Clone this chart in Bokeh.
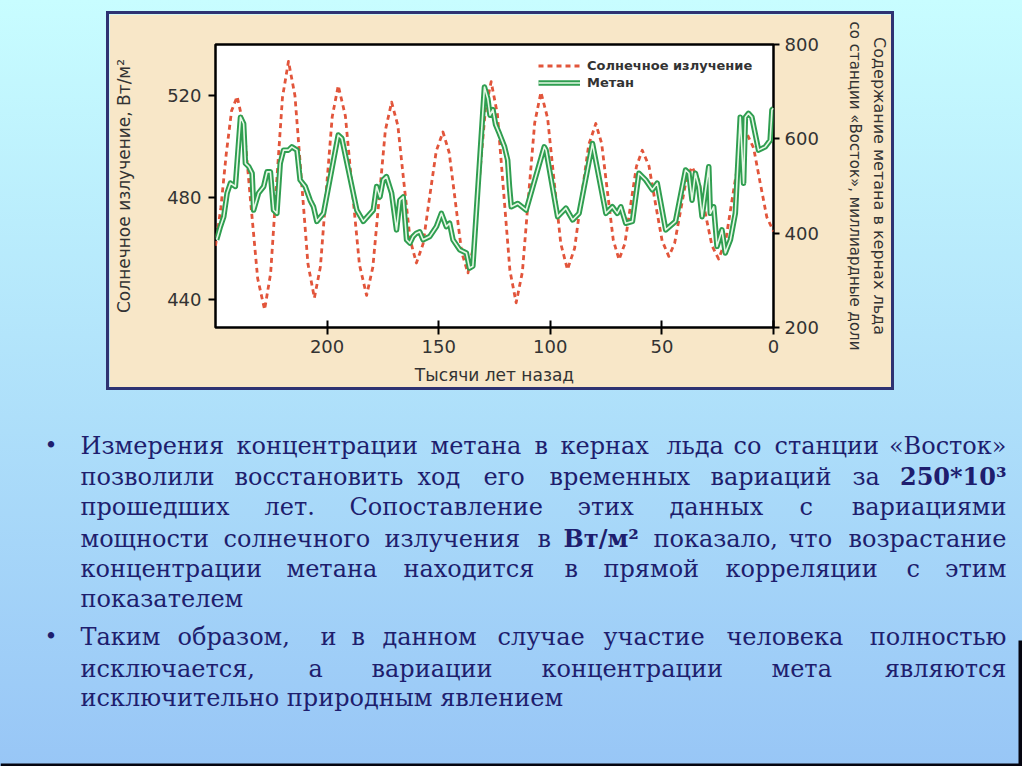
from bokeh.plotting import figure
from bokeh.layouts import column, row
from bokeh.models import Range1d, LinearAxis, FixedTicker, Legend, LegendItem, Spacer
from bokeh.core.properties import value
from bokeh.embed import file_html
from bokeh.resources import INLINE

# ---------------- data ----------------
solar_kyr = [250, 247.6, 245.2, 242.8, 240.3, 237.2, 234.2, 231.1, 228, 225.3, 222.7, 220.0,
             217.3, 214.4, 211.5, 208.6, 205.7, 203.0, 200.4, 197.7, 195, 191.8, 188.7, 185.5,
             182.3, 179.5, 176.7, 173.9, 171.1, 168.3, 165.6, 162.8, 160, 157.0, 154.1, 151.1,
             148.1, 145.3, 142.5, 139.7, 136.9, 134.3, 131.7, 129.1, 126.5, 123.7, 120.9, 118.1,
             115.3, 112.5, 109.8, 107.0, 104.2, 101.2, 98.3, 95.3, 92.3, 89.1, 86.0, 82.8,
             79.6, 77.0, 74.4, 71.8, 69.2, 66.6, 64.0, 61.4, 58.8, 55.8, 52.9, 49.9,
             46.9, 44.3, 41.7, 39.1, 36.5, 33.5, 30.6, 27.6, 24.6, 21.4, 18.3, 15.1,
             11.9, 8.9, 6.0, 3.0, 0]
solar_wm2 = [461, 476, 497, 514, 519.6, 507.4, 477.8, 448.2, 436, 450.2, 484.7, 519.2,
             533.4, 519.9, 487.0, 454.1, 440.6, 452.8, 482.3, 511.7, 523.9, 511.9, 482.8, 453.6,
             441.6, 452.7, 479.5, 506.3, 517.4, 508.2, 485.9, 463.5, 454.3, 461.8, 480.0, 498.2,
             505.7, 497.6, 478.1, 458.5, 450.4, 461.4, 487.9, 514.4, 525.4, 512.7, 482.1, 451.4,
             438.7, 450.8, 480.0, 509.2, 521.3, 511.1, 486.5, 461.9, 451.7, 460.1, 480.4, 500.6,
             509.0, 501.2, 482.3, 463.4, 455.6, 461.9, 477.1, 492.2, 498.5, 492.4, 477.7, 463.0,
             456.9, 462.0, 474.5, 486.9, 492.0, 486.7, 474.0, 461.2, 455.9, 463.1, 480.5, 497.8,
             505.0, 499.4, 485.9, 472.3, 466.7]

ch4_kyr = [249.5, 247.8, 246.3, 244.8, 243.3, 241.1, 238.8, 237.4, 236.6, 235.1,
           233.6, 232.9, 230.7, 228.4, 226.9, 225.4, 224.0, 222.5, 221.0, 219.5,
           217.3, 215.8, 213.5, 212.1, 209.8, 207.6, 206.1, 204.6, 201.6, 195.0,
           193.4, 186.7, 183.8, 179.3, 177.8, 176.3, 174.9, 173.4, 171.1, 168.9,
           167.4, 165.9, 164.4, 162.9, 161.5, 160.0, 158.5, 157.0, 154.0, 151.0,
           148.8, 146.6, 145.1, 143.6, 140.6, 137.6, 136.2, 134.7, 129.5, 128.0,
           127.0, 125.7, 124.5, 122.8, 120.5, 119.1, 118.3, 117.5, 114.6, 110.8,
           102.7, 101.9, 96.7, 93.0, 90.0, 87.1, 81.1, 75.1, 72.2, 70.0,
           68.4, 66.2, 63.2, 60.3, 57.3, 54.3, 52.1, 48.3, 43.9, 39.4,
           37.9, 36.5, 35.0, 33.5, 32.0, 29.0, 28.3, 26.8, 25.3, 23.1,
           21.6, 19.3, 17.1, 14.9, 13.4, 12.6, 11.2, 9.7, 6.7, 3.7,
           1.5, 0.7, 0]
ch4_ppb = [386, 414, 435, 485, 506, 499, 646, 632, 548, 541,
           527, 449, 485, 499, 530, 530, 449, 442, 548, 576,
           576, 583, 576, 513, 499, 470, 456, 425, 442, 608,
           601, 449, 425, 449, 499, 477, 513, 520, 485, 407,
           470, 477, 386, 379, 393, 400, 403, 386, 393, 414,
           442, 414, 421, 386, 365, 358, 326, 330, 710, 685,
           650, 662, 630, 611, 583, 555, 499, 456, 463, 449,
           583, 576, 435, 453, 428, 442, 590, 442, 456, 442,
           456, 421, 425, 527, 513, 492, 506, 407, 425, 534,
           527, 470, 527, 499, 435, 541, 442, 456, 372, 407,
           358, 386, 442, 646, 506, 646, 654, 646, 576, 583,
           597, 661, 665]

x_ticks = [0, 50, 100, 150, 200]
left_ticks = [440, 480, 520]
right_ticks = [200, 400, 600, 800]

series_names = ["Солнечное излучение", "Метан"]
x_title = "Тысячи лет назад"
left_title = "Солнечное излучение, Вт/м²"
right_title_outer = "Содержание метана в кернах льда"
right_title_inner = "со станции «Восток», миллиардные доли"

# slide text: (line centre y, [(x, word, bold, right_aligned)])
text_lines = [
    (445, [(80, "Измерения"), (236, "концентрации"), (430, "метана"), (534, "в"), (560, "кернах"),
           (666, "льда"), (733, "со"), (774, "станции"), (1006, "«Восток»", False, True)]),
    (476, [(80, "позволили"), (234, "восстановить"), (417, "ход"), (483, "его"), (549, "временных"),
           (710, "вариаций"), (852, "за"), (1006, "250*10³", True, True)]),
    (506, [(80, "прошедших"), (264, "лет."), (349, "Сопоставление"), (577, "этих"), (669, "данных"),
           (799, "с"), (1006, "вариациями", False, True)]),
    (538, [(80, "мощности"), (223, "солнечного"), (384, "излучения"), (537, "в"), (563, "Вт/м²", True),
           (653, "показало,"), (788, "что"), (1006, "возрастание", False, True)]),
    (568, [(80, "концентрации"), (286, "метана"), (403, "находится"), (564, "в"), (603, "прямой"),
           (725, "корреляции"), (906, "с"), (1006, "этим", False, True)]),
    (598, [(80, "показателем")]),
    (636, [(80, "Таким"), (177, "образом,"), (320, "и"), (351, "в"), (382, "данном"), (497, "случае"),
           (603, "участие"), (726, "человека"), (1006, "полностью", False, True)]),
    (668, [(80, "исключается,"), (308, "а"), (371, "вариации"), (541, "концентрации"), (771, "мета"),
           (1006, "являются", False, True)]),
    (697, [(80, "исключительно природным явлением")]),
]
bullet_ys = [445, 636]

# ---------------- page geometry ----------------
PW, PH = 1022, 766
BOX_L, BOX_T, BOX_R, BOX_B = 106, 11, 894, 390      # chart panel incl. navy border
BW = 3                                              # navy border width
IL, IT, IR, IB = BOX_L + BW, BOX_T + BW, BOX_R - BW, BOX_B - BW
FL, FT, FR, FB = 215, 44, 775, 328                  # plot frame
TOP_C = "#c8fdff"
BOT_C = "#98c6f6"
NAVY = "#2e3272"
TXT = "#1e1e6e"
GREY = "#333333"
SANS = "DejaVu Sans"


def strip(w, h):
    return Spacer(width=w, height=h, styles={"background-color": NAVY})


# ---------------- chart ----------------
chart = figure(width=IR - IL, height=IB - IT, output_backend="svg",
               toolbar_location=None, title=None,
               x_range=Range1d(250, 0), y_range=Range1d(429, 540),
               min_border_left=FL - IL, min_border_right=IR - FR,
               min_border_top=FT - IT, min_border_bottom=IB - FB)
chart.border_fill_color = "#f8e7c8"
chart.background_fill_color = "white"
chart.outline_line_color = "black"
chart.outline_line_width = 2.5
chart.outline_line_alpha = 1
chart.grid.grid_line_color = None

chart.extra_y_ranges = {"ch4": Range1d(200, 800)}
r_sun = chart.line(solar_kyr, solar_wm2, line_color="#e2553b", line_width=2.8, line_dash="5 4",
                   line_join="round")
r_ch4a = chart.line(ch4_kyr, ch4_ppb, y_range_name="ch4", line_color="#2f9e50", line_width=5.5,
                    line_join="round")
r_ch4b = chart.line(ch4_kyr, ch4_ppb, y_range_name="ch4", line_color="#e6f8e6", line_width=1.6,
                    line_join="round")

rax = LinearAxis(y_range_name="ch4")
chart.add_layout(rax, "right")
rax2 = LinearAxis(y_range_name="ch4", ticker=FixedTicker(ticks=[]))
chart.add_layout(rax2, "right")

for ax in (chart.xaxis[0], chart.yaxis[0], rax, rax2):
    ax.axis_line_color = None
    ax.major_tick_line_color = "black"
    ax.major_tick_line_width = 2
    ax.minor_tick_line_color = None
    ax.major_label_text_font = SANS
    ax.major_label_text_font_size = "18px"
    ax.major_label_text_color = GREY
    ax.axis_label_text_font = SANS
    ax.axis_label_text_font_size = "17px"
    ax.axis_label_text_font_style = "normal"
    ax.axis_label_text_color = GREY

chart.xaxis.ticker = FixedTicker(ticks=x_ticks)
chart.xaxis.major_tick_in = 7
chart.xaxis.major_tick_out = 7
chart.xaxis.major_label_standoff = 5
chart.xaxis.axis_label = x_title
chart.xaxis.axis_label_standoff = 9

chart.yaxis[0].ticker = FixedTicker(ticks=left_ticks)
chart.yaxis[0].major_tick_in = 0
chart.yaxis[0].major_tick_out = 7
chart.yaxis[0].major_label_standoff = 7
chart.yaxis[0].axis_label = left_title
chart.yaxis[0].axis_label_standoff = 30

rax.ticker = FixedTicker(ticks=right_ticks)
rax.major_tick_in = 0
rax.major_tick_out = 6
rax.major_label_standoff = 5
rax.axis_label = right_title_inner
rax.axis_label_text_font_size = "15px"
rax.axis_label_standoff = 24

rax2.major_tick_line_color = None
rax2.major_tick_in = 0
rax2.major_tick_out = 0
rax2.major_label_standoff = 0
rax2.axis_label = right_title_outer
rax2.axis_label_text_font_size = "16px"
rax2.axis_label_standoff = 3

legend = Legend(items=[LegendItem(label=series_names[0], renderers=[r_sun]),
                       LegendItem(label=series_names[1], renderers=[r_ch4a, r_ch4b])],
                location=(538 - FL, FB - 92), glyph_width=42, glyph_height=17, label_height=17,
                label_standoff=7, padding=5, spacing=0, margin=0, border_line_color=None,
                background_fill_alpha=0, label_text_font=SANS, label_text_font_style="bold",
                label_text_font_size="13px", label_text_color=GREY)
chart.add_layout(legend)

# ---------------- slide text panel ----------------
tf = figure(width=PW, height=PH - BOX_B, output_backend="svg", toolbar_location=None, title=None,
            x_range=Range1d(0, PW), y_range=Range1d(PH, BOX_B), min_border=0,
            x_axis_location=None, y_axis_location=None)
tf.outline_line_color = None
tf.grid.grid_line_color = None
tf.border_fill_alpha = 0
tf.background_fill_alpha = 0

# dark slide edges (right and bottom)
tf.quad(left=[1018, 0], right=[PW, PW], top=[640, 763], bottom=[PH, PH], fill_color="#050510",
        line_color=None)

groups = {}
for ly, words in text_lines:
    for w in words:
        bold = len(w) > 2 and w[2]
        right = len(w) > 3 and w[3]
        g = groups.setdefault((bold, right), {"x": [], "y": [], "t": []})
        g["x"].append(w[0])
        g["y"].append(ly)
        g["t"].append(w[1])
for (bold, right), g in groups.items():
    tf.text(x=g["x"], y=g["y"], text=g["t"], text_font=value("DejaVu Serif"),
            text_font_size="24px", text_color=TXT, text_baseline="middle",
            text_align="right" if right else "left",
            text_font_style="bold" if bold else "normal")
tf.text(x=[44] * len(bullet_ys), y=bullet_ys, text=["•"] * len(bullet_ys),
        text_font=value("DejaVu Serif"), text_font_size="22px", text_color=TXT,
        text_baseline="middle")

# ---------------- page layout ----------------
right_gap = PW - BOX_R
page = column(
    Spacer(width=PW, height=BOX_T),
    row(Spacer(width=BOX_L, height=BW), strip(BOX_R - BOX_L, BW), Spacer(width=right_gap, height=BW)),
    row(Spacer(width=BOX_L, height=IB - IT), strip(BW, IB - IT), chart, strip(BW, IB - IT),
        Spacer(width=right_gap, height=IB - IT)),
    row(Spacer(width=BOX_L, height=BW), strip(BOX_R - BOX_L, BW), Spacer(width=right_gap, height=BW)),
    tf,
    spacing=0,
    styles={"background": "linear-gradient(180deg, %s 0px, %s %dpx)" % (TOP_C, BOT_C, PH)},
)

open("out.html", "w").write(file_html(page, INLINE))
